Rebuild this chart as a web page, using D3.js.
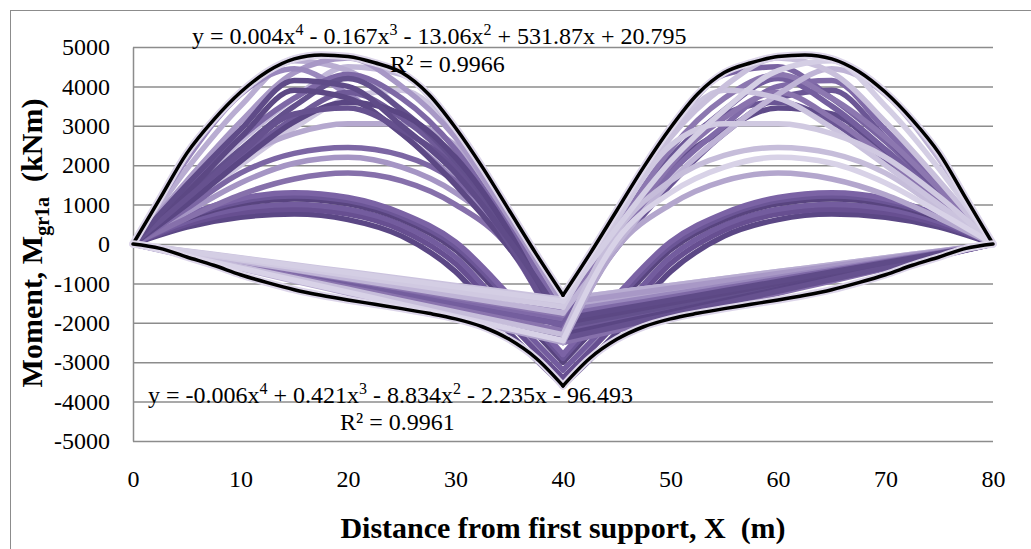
<!DOCTYPE html>
<html>
<head>
<meta charset="utf-8">
<script src="https://cdn.jsdelivr.net/npm/d3@7/dist/d3.min.js"></script>
<style>
  body { margin: 0; background: #fff; }
  text { font-family: "Liberation Serif", "Times New Roman", serif; fill: #000; }
</style>
</head>
<body>
<svg id="chart" width="1031" height="549"></svg>
<script>
const margin = { top: 47, right: 38, bottom: 108, left: 133 };
const width = 1031 - margin.left - margin.right;
const height = 549 - margin.top - margin.bottom;
const serif = '"Liberation Serif", "Times New Roman", serif';

// positions along the girder (m)
const xValues = [0, 5, 10, 15, 20, 25, 30, 35, 40, 45, 50, 55, 60, 65, 70, 75, 80];
const envelopeX = [0, 2.5, 5, 7.5, 10, 12.5, 15, 17.5, 20, 22.5, 25, 27.5, 30, 32.5, 35, 37.5, 40,
  42.5, 45, 47.5, 50, 52.5, 55, 57.5, 60, 62.5, 65, 67.5, 70, 72.5, 75, 77.5, 80];

const xTicks = [0, 10, 20, 30, 40, 50, 60, 70, 80];
const yTicks = [5000, 4000, 3000, 2000, 1000, 0, -1000, -2000, -3000, -4000, -5000];

// both spans loaded (kNm)
const bothSpans = [
  [0, 430, 680, 760, 620, 200, -700, -2250, -3600, -2250, -700, 200, 620, 760, 680, 430, 0],
  [0, 500, 800, 880, 760, 350, -500, -2000, -3400, -2000, -500, 350, 760, 880, 800, 500, 0],
  [0, 570, 900, 1000, 880, 480, -330, -1800, -3200, -1800, -330, 480, 880, 1000, 900, 570, 0],
  [0, 640, 1020, 1140, 1020, 620, -150, -1550, -3000, -1550, -150, 620, 1020, 1140, 1020, 640, 0],
  [0, 680, 1080, 1220, 1100, 700, -50, -1420, -2900, -1420, -50, 700, 1100, 1220, 1080, 680, 0],
  [0, 720, 1150, 1300, 1180, 780, 50, -1300, -2800, -1300, 50, 780, 1180, 1300, 1150, 720, 0]
];
const bothSpansColors = ["#5b4785", "#674f91", "#735c9e", "#58447f", "#6b5596", "#7b63a5"];

// first span loaded (kNm)
const spanOne = [
  [0, 1000, 2000, 2950, 3700, 3900, 2800, 600, -1400, -1225, -1050, -875, -700, -525, -350, -175, 0],
  [0, 1300, 2600, 3700, 4500, 4300, 2850, 700, -1600, -1400, -1200, -1000, -800, -600, -400, -200, 0],
  [0, 1900, 3500, 4650, 4400, 3400, 2100, 400, -1400, -1225, -1050, -875, -700, -525, -350, -175, 0],
  [0, 1200, 2200, 2800, 3050, 3050, 2500, 650, -1650, -1444, -1238, -1031, -825, -619, -412, -206, 0],
  [0, 1600, 3100, 4350, 4720, 4000, 2700, 650, -1500, -1312, -1125, -938, -750, -562, -375, -188, 0],
  [0, 800, 1550, 2050, 2200, 1950, 1300, 100, -2450, -2144, -1838, -1531, -1225, -919, -612, -306, 0],
  [0, 2150, 3800, 4450, 3800, 2800, 1600, 0, -1700, -1488, -1275, -1062, -850, -638, -425, -212, 0],
  [0, 650, 1250, 1650, 1800, 1600, 1000, -100, -2500, -2188, -1875, -1562, -1250, -938, -625, -312, 0],
  [0, 900, 1800, 2300, 2450, 2250, 1600, 300, -2300, -2012, -1725, -1438, -1150, -862, -575, -288, 0],
  [0, 1400, 2700, 3700, 4300, 3700, 2400, 400, -1800, -1575, -1350, -1125, -900, -675, -450, -225, 0],
  [0, 1100, 2200, 3200, 3850, 3200, 2000, 100, -2200, -1925, -1650, -1375, -1100, -825, -550, -275, 0],
  [0, 1200, 2400, 3500, 4200, 3400, 2100, 200, -2100, -1838, -1575, -1312, -1050, -788, -525, -262, 0],
  [0, 1000, 2100, 3100, 3600, 3300, 2200, 300, -2300, -2012, -1725, -1438, -1150, -862, -575, -288, 0],
  [0, 1300, 2700, 3900, 3700, 2800, 1500, -100, -2000, -1750, -1500, -1250, -1000, -750, -500, -250, 0],
  [0, 1150, 2300, 3300, 3450, 2900, 1900, 0, -2400, -2100, -1800, -1500, -1200, -900, -600, -300, 0],
  [0, 1500, 2900, 4150, 4000, 3000, 1800, 100, -1900, -1662, -1425, -1188, -950, -712, -475, -238, 0]
];
const spanOneColors = ["#cfc7e0", "#c2b8d9", "#b9add2", "#b5a8cf", "#a898c6", "#a595c4",
  "#9a88bd", "#8670ab", "#7c66a4", "#7e68a6", "#6f5a98", "#63508c", "#5a4683", "#5c4884",
  "#66518f", "#5f4b88"];

// second span loaded (kNm)
const spanTwo = [
  [0, -288, -575, -862, -1150, -1438, -1725, -2012, -2300, 300, 2200, 3300, 3600, 3100, 2100, 1000, 0],
  [0, -300, -600, -900, -1200, -1500, -1800, -2100, -2400, 0, 1900, 2900, 3450, 3300, 2300, 1150, 0],
  [0, -206, -412, -619, -825, -1031, -1238, -1444, -1650, 700, 2850, 4300, 4500, 3700, 2600, 1300, 0],
  [0, -250, -500, -750, -1000, -1250, -1500, -1750, -2000, -100, 1500, 2800, 3700, 3900, 2700, 1300, 0],
  [0, -238, -475, -712, -950, -1188, -1425, -1662, -1900, 100, 1800, 3000, 4000, 4150, 2900, 1500, 0],
  [0, -256, -512, -769, -1025, -1281, -1538, -1794, -2050, 200, 2100, 3400, 4200, 3500, 2400, 1200, 0],
  [0, -225, -450, -675, -900, -1125, -1350, -1575, -1800, 400, 2400, 3700, 4300, 3700, 2700, 1400, 0],
  [0, -275, -550, -825, -1100, -1375, -1650, -1925, -2200, 100, 2000, 3200, 3850, 3200, 2200, 1100, 0],
  [0, -312, -625, -938, -1250, -1562, -1875, -2188, -2500, -100, 1000, 1600, 1800, 1650, 1250, 650, 0],
  [0, -219, -438, -656, -875, -1094, -1312, -1531, -1750, 0, 1600, 2800, 3800, 4450, 3800, 2150, 0],
  [0, -288, -575, -862, -1150, -1438, -1725, -2012, -2300, 300, 1600, 2250, 2450, 2300, 1800, 900, 0],
  [0, -175, -350, -525, -700, -875, -1050, -1225, -1400, 600, 2800, 3900, 3700, 2950, 2000, 1000, 0],
  [0, -188, -375, -562, -750, -938, -1125, -1312, -1500, 650, 2700, 4000, 4720, 4350, 3100, 1600, 0],
  [0, -200, -400, -600, -800, -1000, -1200, -1400, -1600, 650, 2500, 3050, 3050, 2800, 2200, 1200, 0],
  [0, -306, -612, -919, -1225, -1531, -1838, -2144, -2450, 100, 1300, 1950, 2200, 2050, 1550, 800, 0],
  [0, -181, -362, -544, -725, -906, -1088, -1269, -1450, 400, 2100, 3400, 4400, 4650, 3500, 1900, 0]
];
const spanTwoColors = ["#6a5594", "#5f4b89", "#7a64a2", "#6b5695", "#806aa8", "#745e9e",
  "#8c77b0", "#8a74ae", "#b3a6cd", "#bfb4d6", "#c6bdda", "#cbc3de", "#c9c0dc", "#d0c9e1",
  "#d8d2e7", "#d4cee4"];

// envelopes (kNm)
const upperEnvelope = [0, 1150, 2300, 3150, 3850, 4380, 4700, 4800, 4760, 4600, 4350, 3800, 2950, 1950, 850, -250, -1300,
  -250, 850, 1950, 2950, 3800, 4350, 4600, 4760, 4800, 4700, 4380, 3850, 3150, 2300, 1150, 0];
const lowerEnvelope = [0, -110, -330, -540, -780, -980, -1160, -1300, -1420, -1530, -1640, -1760, -1900, -2100, -2420, -2900, -3600,
  -2900, -2420, -2100, -1900, -1760, -1640, -1530, -1420, -1300, -1160, -980, -780, -540, -330, -110, 0];

const upperFit = { eq: "y = 0.004x^4 - 0.167x^3 - 13.06x^2 + 531.87x + 20.795", r2: "R² = 0.9966" };
const lowerFit = { eq: "y = -0.006x^4 + 0.421x^3 - 8.834x^2 - 2.235x - 96.493", r2: "R² = 0.9961" };

const root = d3.select("#chart");

// outer chart border
root.append("rect")
  .attr("x", 10.5).attr("y", 10.5)
  .attr("width", 1040).attr("height", 560)
  .attr("fill", "none").attr("stroke", "#8c8c8c").attr("stroke-width", 1);

const svg = root.append("g")
  .attr("transform", `translate(${margin.left},${margin.top})`);

const x = d3.scaleLinear().domain([0, 80]).range([0, width]);
const y = d3.scaleLinear().domain([-5000, 5000]).range([height, 0]);

// gridlines + y labels
const yAxis = svg.append("g")
  .attr("font-family", serif)
  .call(d3.axisLeft(y).tickValues(yTicks).tickFormat(d => String(d))
    .tickSize(-width).tickSizeOuter(0).tickPadding(23));
yAxis.selectAll("line").attr("stroke", "#8c8c8c").attr("stroke-width", 1.5);
yAxis.select(".domain").attr("stroke", "#8c8c8c").attr("stroke-width", 1.5);
yAxis.selectAll("text").style("font-size", "24px").style("font-family", serif).attr("fill", "#000");

const xAxis = svg.append("g")
  .attr("font-family", serif)
  .attr("transform", `translate(0,${height})`)
  .call(d3.axisBottom(x).tickValues(xTicks).tickSize(0).tickPadding(29));
xAxis.select(".domain").remove();
xAxis.selectAll("text").style("font-size", "24px").style("font-family", serif).attr("fill", "#000");

const line = d3.line()
  .x(d => x(d.x))
  .y(d => y(d.m))
  .curve(d3.curveMonotoneX);

// each span drawn as its own piece so the kink over the pier stays sharp
function drawSeries(values, xs, color, w) {
  const pts = xs.map((xv, i) => ({ x: xv, m: values[i] }));
  const mid = xs.indexOf(40);
  [pts.slice(0, mid + 1), pts.slice(mid)].forEach(part => {
    svg.append("path")
      .datum(part)
      .attr("fill", "none")
      .attr("stroke", color)
      .attr("stroke-width", w)
      .attr("stroke-linejoin", "round")
      .attr("stroke-linecap", "round")
      .attr("d", line);
  });
}

bothSpans.forEach((s, i) => drawSeries(s, xValues, bothSpansColors[i], 5.5));
spanOne.forEach((s, i) => drawSeries(s, xValues, spanOneColors[i], 5.5));
spanTwo.forEach((s, i) => drawSeries(s, xValues, spanTwoColors[i], 5.5));

drawSeries(upperEnvelope, envelopeX, "#ddd6ea", 7.5);
drawSeries(upperEnvelope, envelopeX, "#000", 3.5);
drawSeries(lowerEnvelope, envelopeX, "#ddd6ea", 7.5);
drawSeries(lowerEnvelope, envelopeX, "#000", 3.5);

// trendline labels, "^n" marks a superscript
function eqLabel(str, px, py) {
  const t = root.append("text")
    .attr("x", px).attr("y", py)
    .style("font-size", "24px")
    .style("white-space", "pre");
  let back = 0;
  str.split(/\^(\d)/).forEach((part, i) => {
    if (i % 2 === 1) {
      t.append("tspan").attr("dy", -9).style("font-size", "16px").text(part);
      back = 9;
    } else if (part.length) {
      t.append("tspan").attr("dy", back).text(part);
      back = 0;
    }
  });
}
eqLabel(upperFit.eq, 192, 44);
root.append("text").attr("x", 390).attr("y", 72).style("font-size", "24px").text(upperFit.r2);
eqLabel(lowerFit.eq, 148, 403);
root.append("text").attr("x", 340).attr("y", 430).style("font-size", "24px").text(lowerFit.r2);

// axis titles
root.append("text")
  .attr("x", 563).attr("y", 538)
  .attr("text-anchor", "middle")
  .style("font-size", "30px")
  .style("font-weight", "bold")
  .style("white-space", "pre")
  .text("Distance from first support, X  (m)");

const yTitle = root.append("text")
  .attr("transform", "translate(42,243) rotate(-90)")
  .attr("text-anchor", "middle")
  .style("font-size", "30px")
  .style("font-weight", "bold")
  .style("white-space", "pre");
yTitle.append("tspan").text("Moment, M");
yTitle.append("tspan").attr("dy", 7).style("font-size", "20px").text("gr1a");
yTitle.append("tspan").attr("dy", -7).text("  (kNm)");
</script>
</body>
</html>
